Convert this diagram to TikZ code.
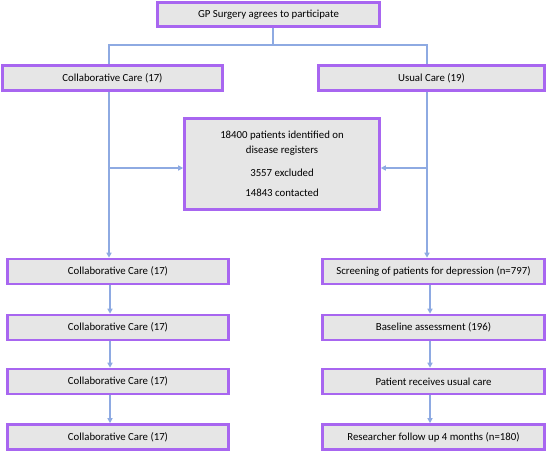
\documentclass[tikz,border=0pt]{standalone}
\usepackage{fontspec}
\setmainfont{Carlito}
\usetikzlibrary{arrows.meta,calc}
\definecolor{boxfill}{RGB}{230,230,230}
\definecolor{boxline}{RGB}{168,102,240}
\definecolor{conn}{RGB}{142,170,226}
\tikzset{
  fbox/.style={draw=boxline,fill=boxfill,line width=2.6pt,inner sep=0pt,
    font=\fontsize{10.8}{15}\selectfont,align=center},
  cline/.style={draw=conn,line width=1.6pt},
  carr/.style={cline,-{Triangle[length=5pt,width=5pt]}}
}
\begin{document}
\begin{tikzpicture}[x=1pt,y=-1pt]
\useasboundingbox (0,0) rectangle (548,451);
\node[fbox,minimum width=222pt,minimum height=24pt] (gp) at (268.5,14.5) {GP Surgery agrees to participate};
\node[fbox,minimum width=220pt,minimum height=25pt] (cc) at (112.5,78) {Collaborative Care (17)};
\node[fbox,minimum width=226pt,minimum height=25pt] (uc) at (431.5,78) {Usual Care (19)};
\node[fbox,minimum width=195pt,minimum height=91pt] (mid) at (282,164)
  {18400 patients identified on\\disease registers\\[8pt]3557 excluded\\[5pt]14843 contacted};
\node[fbox,minimum width=221pt,minimum height=25pt] (l1) at (118,271.5) {Collaborative Care (17)};
\node[fbox,minimum width=221pt,minimum height=25pt] (l2) at (118,327.5) {Collaborative Care (17)};
\node[fbox,minimum width=221pt,minimum height=25pt] (l3) at (118,381.5) {Collaborative Care (17)};
\node[fbox,minimum width=221pt,minimum height=25pt] (l4) at (118,437) {Collaborative Care (17)};
\node[fbox,minimum width=222pt,minimum height=25pt] (r1) at (433.5,271.5) {Screening of patients for depression (n=797)};
\node[fbox,minimum width=222pt,minimum height=25pt] (r2) at (433.5,327.5) {Baseline assessment (196)};
\node[fbox,minimum width=222pt,minimum height=25pt] (r3) at (433.5,381.5) {Patient receives usual care};
\node[fbox,minimum width=222pt,minimum height=25pt] (r4) at (433.5,437) {Researcher follow up 4 months (n=180)};
% coordinates
\coordinate (xl) at (109,0);
\coordinate (xr) at (427,0);
\coordinate (xla) at (110,0);
\coordinate (xra) at (430,0);
\coordinate (split) at (273,45);
\coordinate (bl) at (109,168);
\coordinate (br) at (427,168);
% top split
\draw[cline] (gp.south -| split) -- (split);
\draw[cline] (cc.north -| xl) |- (split) -| (uc.north -| xr);
% long verticals
\draw[carr] (cc.south -| xl) -- (l1.north -| xl);
\draw[carr] (uc.south -| xr) -- (r1.north -| xr);
\draw[carr] (bl) -- (mid.west |- bl);
\draw[carr] (br) -- (mid.east |- br);
% chains
\draw[carr] (l1.south -| xla) -- (l2.north -| xla);
\draw[carr] (l2.south -| xla) -- (l3.north -| xla);
\draw[carr] (l3.south -| xla) -- (l4.north -| xla);
\draw[carr] (r1.south -| xra) -- (r2.north -| xra);
\draw[carr] (r2.south -| xra) -- (r3.north -| xra);
\draw[carr] (r3.south -| xra) -- (r4.north -| xra);
\end{tikzpicture}
\end{document}
